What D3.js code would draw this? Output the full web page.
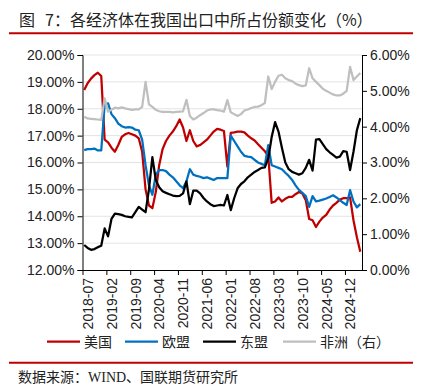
<!doctype html>
<html lang="zh">
<head>
  <meta charset="utf-8">
  <script src="https://cdnjs.cloudflare.com/ajax/libs/d3/7.8.5/d3.min.js"></script>
  <style>
    body { margin: 0; background: #fff; }
    svg text { fill: #222; }
    .tick text { font-family: "Liberation Sans", Arial, sans-serif; font-size: 14px; }
  </style>
</head>
<body>
  <div id="chart"></div>
  <script>
    // 月份 2018-07 ~ 2025-04
    var months = d3.timeMonth.range(new Date(2018, 6, 1), new Date(2025, 4, 1)).map(d3.timeFormat("%Y-%m"));
    var labelEvery = 7;

    // 左轴 (%)
    var usa = [18.7, 18.95, 19.12, 19.25, 19.34, 19.22, 16.85, 16.75, 16.55, 16.4,
      16.65, 16.95, 17.05, 17.1, 17.05, 17.0, 16.9, 16.4, 15.0, 14.4,
      14.3, 14.9, 15.9, 16.5, 16.8, 17.0, 17.15, 17.35, 17.6, 17.3,
      16.8, 17.2, 16.8, 16.6, 16.65, 16.75, 16.85, 17.0, 17.15, 17.25,
      17.22, 17.17, 15.85, 17.1, 17.12, 17.15, 17.15, 17.12, 17.0, 16.9,
      16.82, 16.68, 16.55, 16.42, 16.25, 14.5, 14.55, 14.7, 14.55, 14.65,
      14.72, 14.72, 14.82, 14.9, 14.85, 14.6, 13.9, 13.85, 13.6, 13.8,
      13.95, 14.05, 14.25, 14.4, 14.5, 14.62, 14.67, 14.67, 14.7, 13.85,
      13.22, 12.68];
    var eu = [16.46, 16.5, 16.5, 16.52, 16.45, 16.45, 18.15, 18.2, 17.8, 17.65,
      17.45, 17.35, 17.3, 17.32, 17.3, 17.22, 17.2, 16.85, 15.9, 15.15,
      14.8, 15.55, 15.72, 15.72, 15.68, 15.55, 15.45, 15.3, 15.15, 15.05,
      15.3, 15.75, 15.55, 15.5, 15.47, 15.42, 15.45, 15.4, 15.35, 15.42,
      15.42, 15.42, 15.42, 17.0, 16.8, 16.6, 16.4, 16.25, 16.22, 16.2,
      16.1, 16.0, 15.95, 15.9, 16.65, 15.9, 15.85, 15.8, 15.75, 15.62,
      15.5, 15.35, 15.15, 14.98, 14.87, 14.75, 14.35, 14.75, 14.55, 14.58,
      14.62, 14.66, 14.72, 14.78, 14.7, 14.6, 14.5, 14.42, 14.97, 14.55,
      14.33, 14.45];
    var asean = [12.93, 12.82, 12.75, 12.78, 12.85, 12.9, 13.55, 13.25, 13.9, 14.1,
      14.08, 14.05, 14.0, 13.98, 13.96, 14.15, 14.35, 14.25, 14.15, 15.0,
      16.2, 15.35, 15.08, 14.93, 14.87, 14.82, 14.77, 14.75, 14.76, 14.85,
      15.3, 14.45, 14.95, 14.95, 14.85, 14.68, 14.55, 14.45, 14.38, 14.4,
      14.42, 14.4, 14.79, 14.23, 14.67, 15.04, 15.2, 15.3, 15.45, 15.55,
      15.65, 15.72, 15.8, 15.82, 16.15, 16.95, 17.5, 17.15, 16.55, 16.0,
      15.75, 15.65, 15.6, 15.55, 15.6, 15.8, 16.1, 15.7, 16.85, 16.87,
      16.68, 16.5, 16.38, 16.28, 16.18, 16.22, 16.42, 16.4, 15.72, 16.4,
      17.2, 17.65];
    // 右轴 (%)
    var africa = [4.28, 4.23, 4.22, 4.21, 4.2, 4.19, 4.79, 4.42, 4.47, 4.53,
      4.51, 4.54, 4.51, 4.49, 4.47, 4.48, 4.48, 4.55, 5.25, 4.62,
      4.55, 4.47, 4.43, 4.41, 4.41, 4.41, 4.4, 4.41, 4.42, 4.43,
      4.75, 4.3, 4.2, 4.25, 4.32, 4.38, 4.45, 4.48, 4.48, 4.46,
      4.45, 4.42, 4.74, 4.4, 4.35, 4.3, 4.35, 4.45, 4.48, 4.52,
      4.55, 4.56, 4.6, 4.66, 5.4, 5.05, 5.25, 5.42, 5.45, 5.35,
      5.3, 5.27, 5.2, 5.16, 5.13, 5.15, 5.63, 5.35, 5.25, 5.16,
      5.06, 5.0, 4.95, 4.9, 4.87, 4.87, 4.92, 5.0, 5.67, 5.3,
      5.4, 5.5];

    var leftTicks = [12, 13, 14, 15, 16, 17, 18, 19, 20];
    var rightTicks = [0, 1, 2, 3, 4, 5, 6];

    var series = [
      {name: "美国", values: usa, color: "#c00000", axis: "left"},
      {name: "欧盟", values: eu, color: "#0070c0", axis: "left"},
      {name: "东盟", values: asean, color: "#000000", axis: "left"},
      {name: "非洲（右）", values: africa, color: "#bfbfbf", axis: "right"}
    ];

    var width = 422, height = 386;
    var plot = {left: 82.5, right: 362, top: 55, bottom: 270};

    var svg = d3.select("#chart").append("svg")
      .attr("width", width)
      .attr("height", height);

    // 标题
    var title = svg.append("text")
      .attr("y", 26)
      .style("font-family", "'Noto Sans CJK SC', sans-serif")
      .style("font-size", "16px");
    title.append("tspan").attr("x", 19).text("图");
    title.append("tspan").attr("x", 45).text("7：各经济体在我国出口中所占份额变化（%）");

    svg.append("line")
      .attr("x1", 9).attr("x2", 413).attr("y1", 33.3).attr("y2", 33.3)
      .attr("stroke", "#c00000").attr("stroke-width", 2);

    var x = d3.scaleLinear().domain([0, months.length]).range([plot.left, plot.right]);
    var yL = d3.scaleLinear().domain([12, 20]).range([plot.bottom, plot.top]);
    var yR = d3.scaleLinear().domain([0, 6]).range([plot.bottom, plot.top]);

    // 网格线
    svg.append("g").selectAll("line").data(leftTicks.slice(1)).enter()
      .append("line")
      .attr("x1", plot.left).attr("x2", plot.right)
      .attr("y1", function(d) { return yL(d); })
      .attr("y2", function(d) { return yL(d); })
      .attr("stroke", "#e3e3e3").attr("stroke-width", 1);

    var fmt = function(d) { return d3.format(".2f")(d) + "%"; };

    var axL = svg.append("g")
      .attr("transform", "translate(" + plot.left + ",0)")
      .call(d3.axisLeft(yL).tickValues(leftTicks).tickFormat(fmt).tickSize(5).tickPadding(3));
    var axR = svg.append("g")
      .attr("transform", "translate(" + plot.right + ",0)")
      .call(d3.axisRight(yR).tickValues(rightTicks).tickFormat(fmt).tickSize(5).tickPadding(3));

    var xTicks = d3.range(0, months.length, labelEvery);
    var axB = svg.append("g")
      .attr("transform", "translate(0," + plot.bottom + ")")
      .call(d3.axisBottom(x).tickValues(xTicks).tickFormat(function(i) { return months[i]; }).tickSize(5));
    axB.selectAll(".tick text")
      .attr("transform", "rotate(-90)")
      .attr("text-anchor", "end")
      .attr("x", -8)
      .attr("y", 0)
      .attr("dy", "0.35em")
      .attr("dx", 0)
      .each(function() {
        d3.select(this).attr("transform", "translate(5,0) rotate(-90)");
      });

    [axL, axR, axB].forEach(function(a) {
      a.select(".domain").attr("stroke", "#000").attr("stroke-width", 1);
      a.selectAll(".tick line").attr("stroke", "#000");
    });
    axB.select(".domain").attr("d", "M" + plot.left + ",0.5H" + plot.right);

    // 折线
    series.forEach(function(s) {
      var yy = s.axis === "left" ? yL : yR;
      var line = d3.line()
        .x(function(d, i) { return x(i + 0.5); })
        .y(function(d) { return yy(d); });
      svg.append("path")
        .datum(s.values)
        .attr("d", line)
        .attr("fill", "none")
        .attr("stroke", s.color)
        .attr("stroke-width", 2.25)
        .attr("stroke-linejoin", "round");
    });

    // 图例
    var legendX = [47, 125, 203, 283];
    var legend = svg.append("g").attr("transform", "translate(0,341.7)");
    series.forEach(function(s, k) {
      legend.append("line")
        .attr("x1", legendX[k]).attr("x2", legendX[k] + 33)
        .attr("stroke", s.color).attr("stroke-width", 2.25);
      legend.append("text")
        .attr("x", legendX[k] + 37)
        .attr("dy", "0.35em")
        .style("font-family", "'Liberation Serif', 'Noto Sans CJK SC', serif")
        .style("font-size", "14px")
        .text(s.name);
    });

    svg.append("line")
      .attr("x1", 9).attr("x2", 413).attr("y1", 362.7).attr("y2", 362.7)
      .attr("stroke", "#c00000").attr("stroke-width", 2);

    svg.append("text")
      .attr("x", 18).attr("y", 381.5)
      .style("font-family", "'Liberation Serif', 'Noto Sans CJK SC', serif")
      .style("font-size", "14px")
      .text("数据来源：WIND、国联期货研究所");
  </script>
</body>
</html>
